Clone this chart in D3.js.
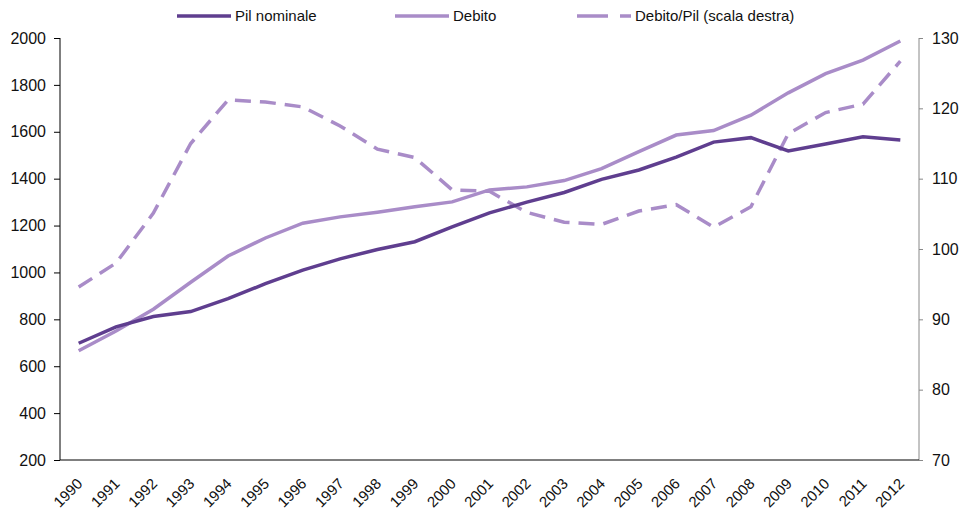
<!DOCTYPE html>
<html>
<head>
<meta charset="utf-8">
<script src="https://cdn.jsdelivr.net/npm/d3@7"></script>
<style>
  body { margin: 0; background: #fff; }
  svg { display: block; font-family: "Liberation Sans", Arial, sans-serif; }
</style>
</head>
<body>
<div id="chart"></div>
<script>
// data
const years = ["1990","1991","1992","1993","1994","1995","1996","1997","1998","1999","2000",
  "2001","2002","2003","2004","2005","2006","2007","2008","2009","2010","2011","2012"];
const pilNominale = [698, 768, 812, 833, 888, 952, 1010, 1058, 1098, 1131, 1194,
  1254, 1300, 1341, 1397, 1437, 1492, 1556, 1575, 1518, 1548, 1579, 1565];
const debito = [666, 750, 843, 958, 1070, 1147, 1210, 1237, 1257, 1280, 1301,
  1352, 1365, 1392, 1443, 1515, 1586, 1605, 1671, 1766, 1848, 1906, 1987];
const debitoPil = [94.6, 98.0, 105.1, 115.0, 121.2, 120.9, 120.2, 117.5, 114.2, 113.0, 108.4,
  108.2, 105.2, 103.8, 103.5, 105.4, 106.3, 103.1, 106.0, 116.4, 119.4, 120.6, 126.7];
const leftTicks = [200, 400, 600, 800, 1000, 1200, 1400, 1600, 1800, 2000];
const rightTicks = [70, 80, 90, 100, 110, 120, 130];

const width = 963, height = 512;
const margin = { top: 38, right: 44, bottom: 52, left: 60 };
const darkPurple = "#5f3e8f";
const lightPurple = "#a98cc8";

const svg = d3.select("#chart").append("svg")
  .attr("width", width)
  .attr("height", height);

const x = d3.scaleBand()
  .domain(years)
  .range([margin.left, width - margin.right]);

const yLeft = d3.scaleLinear()
  .domain([200, 2000])
  .range([height - margin.bottom, margin.top]);

const yRight = d3.scaleLinear()
  .domain([70, 130])
  .range([height - margin.bottom, margin.top]);

const cx = d => x(d) + x.bandwidth() / 2;

// === axes ===
const leftAxis = svg.append("g")
  .attr("transform", `translate(${margin.left},0)`)
  .call(d3.axisLeft(yLeft).tickValues(leftTicks).tickFormat(d3.format("d"))
    .tickSize(6).tickPadding(8));
leftAxis.select(".domain").attr("stroke", "#000").attr("d",
  `M0,${yLeft(2000)}V${yLeft(200)}`);
leftAxis.selectAll(".tick line").attr("stroke", "#000");
leftAxis.selectAll("text").attr("font-size", 16).attr("fill", "#111");

const rightAxis = svg.append("g")
  .attr("transform", `translate(${width - margin.right},0)`)
  .call(d3.axisRight(yRight).tickValues(rightTicks).tickFormat(d3.format("d"))
    .tickSize(4).tickPadding(9));
rightAxis.select(".domain").attr("stroke", "#888").attr("d",
  `M0,${yRight(130)}V${yRight(70)}`);
rightAxis.selectAll(".tick line").attr("stroke", "#888");
rightAxis.selectAll("text").attr("font-size", 16).attr("fill", "#111");

const bottomAxis = svg.append("g")
  .attr("transform", `translate(0,${height - margin.bottom})`)
  .call(d3.axisBottom(x).tickSize(0));
bottomAxis.select(".domain").attr("stroke", "#000")
  .attr("d", `M${margin.left},0H${width - margin.right}`);
bottomAxis.selectAll("text")
  .attr("font-size", 15)
  .attr("fill", "#111")
  .attr("text-anchor", "end")
  .attr("x", 0)
  .attr("y", 0)
  .attr("dy", "0.35em")
  .attr("transform", "translate(1,21) rotate(-45)");

// === lines ===
const lineLeft = d3.line()
  .x((d, i) => cx(years[i]))
  .y(d => yLeft(d));
const lineRight = d3.line()
  .x((d, i) => cx(years[i]))
  .y(d => yRight(d));

svg.append("path")
  .datum(debitoPil)
  .attr("fill", "none")
  .attr("stroke", lightPurple)
  .attr("stroke-width", 3.5)
  .attr("stroke-dasharray", "16,9")
  .attr("d", lineRight);

svg.append("path")
  .datum(debito)
  .attr("fill", "none")
  .attr("stroke", lightPurple)
  .attr("stroke-width", 3.5)
  .attr("d", lineLeft);

svg.append("path")
  .datum(pilNominale)
  .attr("fill", "none")
  .attr("stroke", darkPurple)
  .attr("stroke-width", 3.5)
  .attr("d", lineLeft);

// === legend ===
const legendItems = [
  { label: "Pil nominale", color: darkPurple, dash: null, x: 177 },
  { label: "Debito", color: lightPurple, dash: null, x: 395 },
  { label: "Debito/Pil (scala destra)", color: lightPurple, dash: "31,12", x: 577 }
];
const legend = svg.append("g");
legendItems.forEach(item => {
  legend.append("line")
    .attr("x1", item.x).attr("x2", item.x + 54)
    .attr("y1", 16).attr("y2", 16)
    .attr("stroke", item.color)
    .attr("stroke-width", 3.5)
    .attr("stroke-dasharray", item.dash);
  legend.append("text")
    .attr("x", item.x + 58)
    .attr("y", 16)
    .attr("dy", "0.35em")
    .attr("font-size", 15)
    .attr("fill", "#111")
    .text(item.label);
});
</script>
</body>
</html>
